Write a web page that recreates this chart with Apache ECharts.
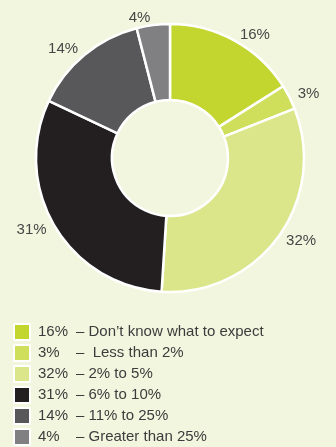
<!DOCTYPE html>
<html lang="en">
<head>
    <meta charset="utf-8">
    <title>Expectations</title>
    <script src="https://cdn.jsdelivr.net/npm/echarts@6/dist/echarts.min.js"></script>
    <style>
        html, body { margin: 0; padding: 0; background: #f3f6df; }
        #main { width: 336px; height: 447px; }
    </style>
</head>
<body>
    <div id="main"></div>
    <script type="text/javascript">
        // data
        var categories = ['Don\u2019t know what to expect', 'Less than 2%', '2% to 5%', '6% to 10%', '11% to 25%', 'Greater than 25%'];
        var values = [16, 3, 32, 31, 14, 4];
        var colors = ['#c3d62f', '#cfdf5c', '#dbe68b', '#231f20', '#58585a', '#808082'];

        var pieData = [];
        for (var i = 0; i < categories.length; i++) {
            pieData.push({ name: categories[i], value: values[i], itemStyle: { color: colors[i] } });
        }

        var myChart = echarts.init(document.getElementById('main'));
        myChart.setOption({
            backgroundColor: '#f3f6df',
            textStyle: { fontFamily: 'Liberation Sans, Arial, sans-serif' },
            legend: {
                orient: 'vertical',
                left: 13,
                top: 323,
                padding: 0,
                height: 200,
                itemWidth: 16,
                itemHeight: 16,
                itemGap: 3,
                icon: 'rect',
                selectedMode: false,
                data: categories,
                formatter: function (name) {
                    var idx = categories.indexOf(name);
                    // the second row has an extra space after the dash
                    var txt = idx === 1 ? ' ' + name : name;
                    return '{p|' + values[idx] + '%}{d|\u2013 ' + txt + '}';
                },
                textStyle: {
                    color: '#3c3c3c',
                    fontSize: 15,
                    padding: [0, 0, 0, 3],
                    rich: {
                        p: { width: 38, fontSize: 15, lineHeight: 16, color: '#3c3c3c' },
                        d: { fontSize: 15, lineHeight: 16, color: '#3c3c3c' }
                    }
                }
            },
            series: [{
                name: 'main',
                type: 'pie',
                center: [170, 158],
                radius: [58, 134],
                startAngle: 90,
                clockwise: true,
                silent: true,
                avoidLabelOverlap: false,
                label: {
                    show: true,
                    position: 'outside',
                    formatter: '{c}%',
                    color: '#474747',
                    fontSize: 15,
                    distanceToLabelLine: 2
                },
                labelLine: { show: false, length: 7, length2: 0 },
                itemStyle: { borderColor: '#ffffff', borderWidth: 2.5 },
                data: pieData
            }]
        });
    </script>
</body>
</html>
